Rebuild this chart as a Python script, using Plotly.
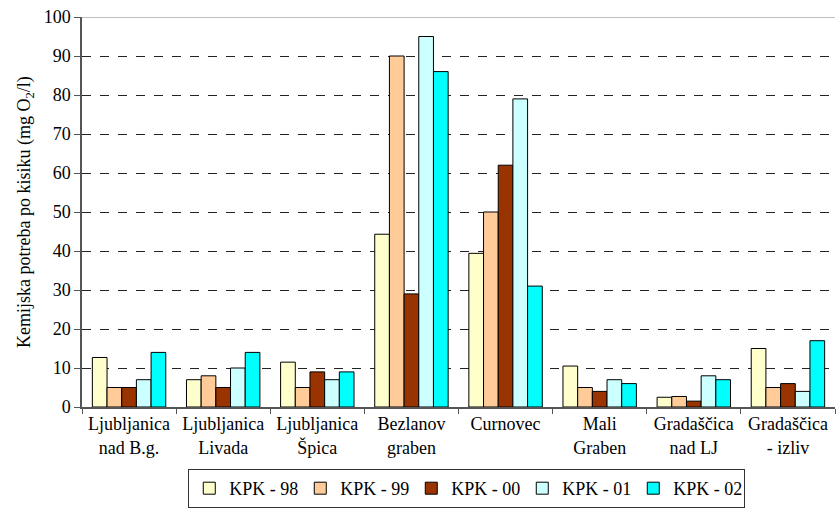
import plotly.graph_objects as go

categories = [
    "Ljubljanica<br>nad B.g.", "Ljubljanica<br>Livada", "Ljubljanica<br>Špica",
    "Bezlanov<br>graben", "Curnovec", "Mali<br>Graben",
    "Gradaščica<br>nad LJ", "Gradaščica<br>- izliv",
]
series_names = ["KPK - 98", "KPK - 99", "KPK - 00", "KPK - 01", "KPK - 02"]
kpk_98 = [12.7, 7, 11.5, 44.3, 39.4, 10.5, 2.5, 15]
kpk_99 = [5, 8, 5, 90, 50, 5, 2.7, 5]
kpk_00 = [5, 5, 9, 29, 62, 4, 1.5, 6]
kpk_01 = [7, 10, 7, 95, 79, 7, 8, 4]
kpk_02 = [14, 14, 9, 86, 31, 6, 7, 17]
colors = ["#FFFFCC", "#FFCC99", "#993300", "#CCFFFF", "#00FFFF"]

font_family = "Liberation Serif"
fs = 18

fig = go.Figure()
for name, vals, col in zip(series_names, [kpk_98, kpk_99, kpk_00, kpk_01, kpk_02], colors):
    fig.add_trace(go.Bar(
        x=categories, y=vals, name=name,
        marker=dict(color=col, line=dict(color="black", width=1)),
    ))

fig.update_layout(
    width=838, height=508,
    margin=dict(l=82, r=3, t=17, b=101, autoexpand=False),
    paper_bgcolor="white", plot_bgcolor="white",
    barmode="group", bargap=0.22, bargroupgap=0,
    font=dict(family=font_family, size=fs, color="black"),
    legend=dict(
        orientation="h", xref="container", yref="container",
        x=0.557, xanchor="center", y=0.0, yanchor="bottom",
        bordercolor="#333333", borderwidth=1,
        font=dict(family=font_family, size=fs),
        itemwidth=30, entrywidth=66, entrywidthmode="pixels", tracegroupgap=0,
    ),
    xaxis=dict(
        showline=True, linecolor="#555555", linewidth=1.5,
        ticks="outside", tickson="boundaries", ticklen=5, tickcolor="#555555",
        showgrid=False, tickfont=dict(family=font_family, size=fs),
    ),
    yaxis=dict(
        range=[0, 100], dtick=10,
        showline=True, linecolor="#555555", linewidth=1.5,
        ticks="outside", ticklen=6, tickcolor="#555555",
        showgrid=True, gridcolor="#222222", griddash="dash", gridwidth=1,
        zeroline=False, tickfont=dict(family=font_family, size=fs),
        title=dict(text="Kemijska potreba po kisiku (mg O<sub>2</sub>/l)",
                   font=dict(family=font_family, size=fs), standoff=8),
    ),
)

# solid top border of the plotting area
fig.add_shape(type="line", xref="paper", yref="y", x0=0, x1=1, y0=100, y1=100,
              line=dict(color="#aaaaaa", width=1.5))

fig.write_html("out.html")
